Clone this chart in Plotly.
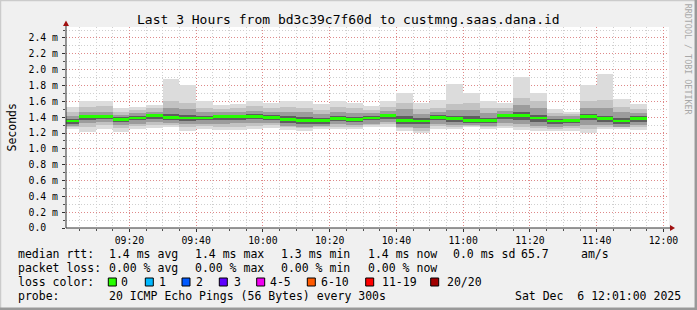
import plotly.graph_objects as go

DAY = "2025-12-06 "
# end time of each 5-minute step (RRD convention: value covers the previous 5 minutes)
bar_end = ["09:05", "09:10", "09:15", "09:20", "09:25", "09:30", "09:35", "09:40", "09:45",
           "09:50", "09:55", "10:00", "10:05", "10:10", "10:15", "10:20", "10:25", "10:30",
           "10:35", "10:40", "10:45", "10:50", "10:55", "11:00", "11:05", "11:10", "11:15",
           "11:20", "11:25", "11:30", "11:35", "11:40", "11:45", "11:50", "11:55"]

# milliseconds
median = [1.35, 1.41, 1.41, 1.37, 1.39, 1.42, 1.40, 1.39, 1.39, 1.41, 1.41, 1.41, 1.40, 1.37,
          1.36, 1.36, 1.38, 1.37, 1.39, 1.42, 1.36, 1.35, 1.40, 1.38, 1.36, 1.36, 1.42, 1.42,
          1.39, 1.35, 1.36, 1.41, 1.38, 1.35, 1.38]
rtt_max = [1.53, 1.60, 1.61, 1.52, 1.53, 1.55, 1.88, 1.80, 1.60, 1.55, 1.56, 1.61, 1.58, 1.61,
           1.60, 1.56, 1.61, 1.58, 1.54, 1.60, 1.70, 1.58, 1.62, 1.82, 1.70, 1.60, 1.58, 1.91,
           1.70, 1.50, 1.47, 1.80, 1.95, 1.63, 1.56]
rtt_min = [1.25, 1.21, 1.25, 1.21, 1.25, 1.26, 1.27, 1.23, 1.25, 1.24, 1.24, 1.25, 1.26, 1.24,
           1.23, 1.25, 1.25, 1.25, 1.28, 1.28, 1.23, 1.20, 1.25, 1.25, 1.28, 1.25, 1.26, 1.24,
           1.23, 1.23, 1.23, 1.20, 1.25, 1.25, 1.24]
upper3 = [1.47, 1.53, 1.54, 1.47, 1.49, 1.51, 1.60, 1.58, 1.52, 1.50, 1.51, 1.54, 1.52, 1.53,
          1.52, 1.49, 1.53, 1.51, 1.49, 1.53, 1.58, 1.50, 1.52, 1.57, 1.58, 1.51, 1.52, 1.64,
          1.60, 1.45, 1.44, 1.60, 1.62, 1.53, 1.50]
upper2 = [1.42, 1.47, 1.47, 1.43, 1.45, 1.47, 1.52, 1.50, 1.46, 1.46, 1.47, 1.48, 1.47, 1.47,
          1.46, 1.44, 1.47, 1.45, 1.45, 1.48, 1.50, 1.44, 1.47, 1.49, 1.49, 1.45, 1.48, 1.55,
          1.51, 1.41, 1.41, 1.51, 1.52, 1.46, 1.45]
upper1 = [1.38, 1.43, 1.43, 1.40, 1.42, 1.44, 1.44, 1.43, 1.42, 1.43, 1.43, 1.44, 1.43, 1.41,
          1.40, 1.39, 1.41, 1.40, 1.42, 1.44, 1.41, 1.39, 1.43, 1.42, 1.41, 1.39, 1.44, 1.46,
          1.43, 1.38, 1.38, 1.44, 1.42, 1.39, 1.41]
lower1 = [1.32, 1.37, 1.38, 1.34, 1.36, 1.38, 1.37, 1.35, 1.36, 1.37, 1.37, 1.38, 1.37, 1.33,
          1.32, 1.32, 1.35, 1.34, 1.36, 1.38, 1.32, 1.31, 1.37, 1.34, 1.33, 1.33, 1.38, 1.37,
          1.34, 1.32, 1.33, 1.36, 1.34, 1.31, 1.34]
lower2 = [1.29, 1.33, 1.34, 1.30, 1.32, 1.34, 1.33, 1.31, 1.32, 1.32, 1.33, 1.33, 1.33, 1.29,
          1.28, 1.29, 1.31, 1.30, 1.32, 1.34, 1.28, 1.26, 1.32, 1.30, 1.30, 1.29, 1.33, 1.32,
          1.29, 1.28, 1.29, 1.30, 1.30, 1.28, 1.30]
lower3 = [1.27, 1.28, 1.30, 1.26, 1.29, 1.30, 1.30, 1.27, 1.29, 1.28, 1.28, 1.29, 1.30, 1.27,
          1.26, 1.27, 1.28, 1.28, 1.30, 1.31, 1.26, 1.23, 1.29, 1.28, 1.29, 1.27, 1.29, 1.27,
          1.26, 1.25, 1.26, 1.25, 1.28, 1.27, 1.27]

ytick_vals = [0.0, 0.2, 0.4, 0.6, 0.8, 1.0, 1.2, 1.4, 1.6, 1.8, 2.0, 2.2, 2.4]
ytick_text = ["0.0\u00a0\u00a0", "0.2 m", "0.4 m", "0.6 m", "0.8 m", "1.0 m", "1.2 m", "1.4 m",
              "1.6 m", "1.8 m", "2.0 m", "2.2 m", "2.4 m"]
xtick_vals = ["09:20", "09:40", "10:00", "10:20", "10:40", "11:00", "11:20", "11:40", "12:00"]

title_text = "Last 3 Hours from bd3c39c7f60d to custmng.saas.dana.id"
rtt_stats = ["1.4 ms avg", "1.4 ms max", "1.3 ms min", "1.4 ms now", "0.0 ms sd", "65.7", "am/s"]
loss_stats = ["0.00 % avg", "0.00 % max", "0.00 % min", "0.00 % now"]
loss_labels = ["0", "1", "2", "3", "4-5", "6-10", "11-19", "20/20"]
loss_colors = ["#26ff00", "#00b8ff", "#0059ff", "#5e00ff", "#f000f0", "#ff5a00", "#ff0000", "#a10000"]
probe_text = "20 ICMP Echo Pings (56 Bytes) every 300s"
stamp_text = "Sat Dec\u00a0\u00a06 12:01:00 2025"

# ---------------- layout geometry (pixels) ----------------
FIG_W, FIG_H = 697, 310
L, T, W, H = 66, 27, 603, 201
MONO = "DejaVu Sans Mono"


def px(x):
    return (x - L) / W


def py(y):
    return (T + H - y) / H


xs = [DAY + t for t in bar_end]
STEP = 300000  # 5 minutes in ms

fig = go.Figure()

bands = [(rtt_min, rtt_max, "#dcdcdc"),
         (lower3, upper3, "#c2c2c2"),
         (lower2, upper2, "#9c9c9c"),
         (lower1, upper1, "#5e5e5e")]
for lo, hi, col in bands:
    fig.add_trace(go.Bar(
        x=xs, y=[h - l for h, l in zip(hi, lo)], base=lo,
        width=STEP, offset=-STEP, marker=dict(color=col, line=dict(width=0)),
        showlegend=False, hoverinfo="skip"))

MED_H = 0.034
fig.add_trace(go.Bar(
    x=xs, y=[MED_H] * len(median), base=[m - MED_H / 2 for m in median],
    width=STEP, offset=-STEP, marker=dict(color=loss_colors[0], line=dict(width=0)),
    showlegend=False, hoverinfo="skip"))

grid_dash = "1px,2px"
fig.update_layout(
    width=FIG_W, height=FIG_H,
    margin=dict(l=L, r=FIG_W - L - W, t=T, b=FIG_H - T - H, pad=0),
    paper_bgcolor="#f0f0f0", plot_bgcolor="#ffffff",
    barmode="overlay", bargap=0, showlegend=False,
    font=dict(family=MONO, color="#000000", size=11.5),
    xaxis=dict(
        type="date",
        range=[DAY + "09:01:00", DAY + "12:01:40"],
        tickvals=[DAY + t for t in xtick_vals], ticktext=xtick_vals,
        showgrid=True, gridcolor="rgba(235,80,80,0.55)", griddash=grid_dash, gridwidth=1,
        zeroline=False, showline=False,
        ticks="outside", ticklen=3, tickcolor="#303030",
        tickfont=dict(family=MONO, size=9.8, color="#000000"),
        minor=dict(dtick=STEP, tick0=DAY + "09:00", showgrid=True, gridcolor="#cfcfcf",
                   griddash=grid_dash, ticks="outside", ticklen=2, tickcolor="#505050"),
        fixedrange=True,
    ),
    yaxis=dict(
        range=[0, H / 79.17],
        tickvals=ytick_vals, ticktext=ytick_text,
        showgrid=True, gridcolor="rgba(235,80,80,0.55)", griddash=grid_dash, gridwidth=1,
        zeroline=False, showline=False,
        ticks="outside", ticklen=3, tickcolor="#303030",
        ticklabelstandoff=2,
        tickfont=dict(family=MONO, size=9.8, color="#000000"),
        minor=dict(dtick=0.1, tick0=0, showgrid=True, gridcolor="#cfcfcf",
                   griddash=grid_dash, ticks="outside", ticklen=2, tickcolor="#505050"),
        fixedrange=True,
    ),
)

shapes = []
AX = "#303030"
ARROW = "#a01010"
# axes with arrows
shapes.append(dict(type="line", xref="paper", yref="paper", x0=px(66), x1=px(671),
                   y0=py(228), y1=py(228), line=dict(color=AX, width=1), layer="above"))
shapes.append(dict(type="line", xref="paper", yref="paper", x0=px(66), x1=px(66),
                   y0=py(228), y1=py(24), line=dict(color=AX, width=1), layer="above"))
shapes.append(dict(type="path", xref="paper", yref="paper",
                   path=f"M {px(670)},{py(225)} L {px(675)},{py(228)} L {px(670)},{py(231)} Z",
                   fillcolor=ARROW, line=dict(width=0), layer="above"))
shapes.append(dict(type="path", xref="paper", yref="paper",
                   path=f"M {px(63)},{py(26)} L {px(66)},{py(20.5)} L {px(69)},{py(26)} Z",
                   fillcolor=ARROW, line=dict(width=0), layer="above"))
# frame around the image
shapes.append(dict(type="line", xref="paper", yref="paper", x0=px(0), x1=px(697),
                   y0=py(0.5), y1=py(0.5), line=dict(color="#cbcbcb", width=1.5)))
shapes.append(dict(type="line", xref="paper", yref="paper", x0=px(0.5), x1=px(0.5),
                   y0=py(0), y1=py(310), line=dict(color="#cbcbcb", width=1.5)))
shapes.append(dict(type="line", xref="paper", yref="paper", x0=px(0), x1=px(697),
                   y0=py(308.8), y1=py(308.8), line=dict(color="#999999", width=2.5)))
shapes.append(dict(type="line", xref="paper", yref="paper", x0=px(695.8), x1=px(695.8),
                   y0=py(0), y1=py(310), line=dict(color="#999999", width=2.5)))

# loss colour boxes
box_x = [108.3, 145.3, 182.0, 219.3, 256.7, 307.3, 365.7, 430.7]
label_x = [119.3, 156.7, 194.0, 231.5, 268.0, 319.0, 380.0, 445.0]
for bx, col in zip(box_x, loss_colors):
    shapes.append(dict(type="rect", xref="paper", yref="paper",
                       x0=px(bx), x1=px(bx + 8), y0=py(278), y1=py(286),
                       fillcolor=col, line=dict(color="#000000", width=1)))

ann = []


def text(s, x, y, size=11.5, anchor="left", color="#000000", angle=0):
    ann.append(dict(text=s, x=px(x), y=py(y), xref="paper", yref="paper",
                    xanchor=anchor, yanchor="middle", showarrow=False, textangle=angle,
                    font=dict(family=MONO, size=size, color=color)))


text(title_text, 348.5, 19.5, size=13, anchor="center")
text("Seconds", 11, 127.5, size=11.5, anchor="center", angle=-90)
text("RRDTOOL / TOBI OETIKER", 688.3, 60, size=8.4, anchor="center", color="#a8a8a8", angle=90)

row_y = [254, 268, 282, 295.5]
text("median rtt:", 16, row_y[0])
for s, x in zip(rtt_stats, [107.3, 193.3, 279.3, 365.7, 451.0, 518.7, 579.3]):
    text(s, x, row_y[0])
text("packet loss:", 16, row_y[1])
for s, x in zip(loss_stats, [107.3, 193.3, 279.3, 365.7]):
    text(s, x, row_y[1])
text("loss color:", 16, row_y[2])
for s, x in zip(loss_labels, label_x):
    text(s, x, row_y[2])
text("probe:", 16, row_y[3])
text(probe_text, 107.3, row_y[3])
text(stamp_text, 513.3, row_y[3])

fig.update_layout(shapes=shapes, annotations=ann)
fig.write_html("out.html")
